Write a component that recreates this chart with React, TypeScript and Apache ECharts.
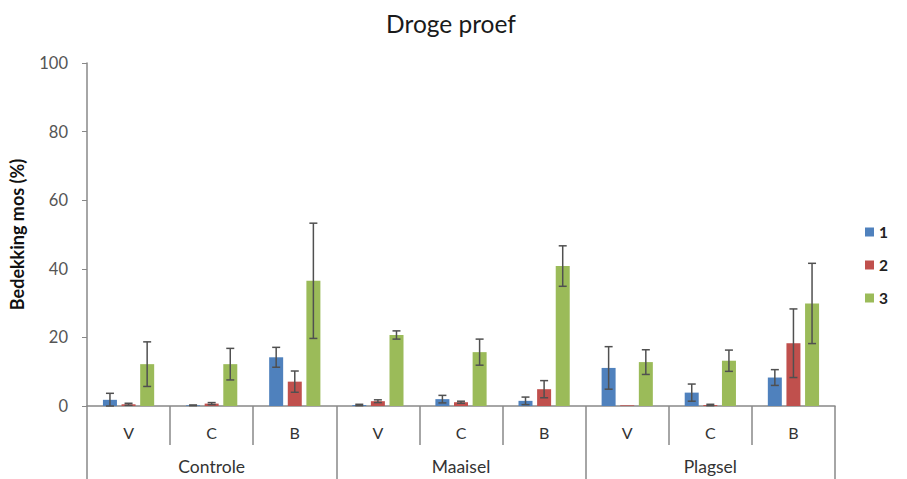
import React, { useEffect, useRef } from "react";
import * as echarts from "echarts";

const categories = ["V", "C", "B", "V", "C", "B", "V", "C", "B"];
const groups = ["Controle", "Maaisel", "Plagsel"];
const yTicks = [0, 20, 40, 60, 80, 100];
const seriesNames = ["1", "2", "3"];
const values1 = [1.8, 0.2, 14.2, 0.3, 2.0, 1.5, 11.1, 3.9, 8.3];
const errors1 = [1.9, 0.1, 2.9, 0.2, 1.1, 1.1, 6.2, 2.5, 2.3];
const values2 = [0.5, 0.7, 7.1, 1.4, 1.1, 4.9, 0.2, 0.3, 18.3];
const errors2 = [0.3, 0.3, 3.1, 0.4, 0.3, 2.5, 0, 0.2, 10.0];
const values3 = [12.2, 12.2, 36.5, 20.7, 15.7, 40.8, 12.8, 13.2, 29.9];
const errors3 = [6.5, 4.6, 16.8, 1.2, 3.8, 5.9, 3.6, 3.1, 11.7];

const colors = ["#4F81BD", "#C0504D", "#9BBB59"];
const FONT = "Lato";

export default function App() {
  const ref = useRef<HTMLDivElement>(null);
  useEffect(() => {
    document.body.style.margin = "0";
    const chart = echarts.init(ref.current!, null, { renderer: "svg" });
    const vals = [values1, values2, values3];
    const errs = [errors1, errors2, errors3];
    const barWidth = 14;
    const gapPx = 4.6;
    const offsets = [-(barWidth + gapPx), 0, barWidth + gapPx];

    const barSeries = vals.map((v, k) => ({
      name: seriesNames[k],
      type: "bar",
      barWidth,
      barGap: "33%",
      data: v,
      itemStyle: { color: colors[k] },
      xAxisIndex: 0,
    }));

    const errSeries = vals.map((v, k) => ({
      name: "err" + seriesNames[k],
      type: "custom",
      xAxisIndex: 0,
      z: 5,
      data: v.map((val, i) => [i, val, errs[k][i]]),
      renderItem: (params: any, api: any) => {
        const idx = api.value(0);
        const val = api.value(1);
        const e = api.value(2);
        if (!e) return null;
        const top = api.coord([idx, val + e]);
        const bot = api.coord([idx, Math.max(0, val - e)]);
        const cx = top[0] + offsets[k];
        const style = { stroke: "#505050", lineWidth: 1.5 };
        const cap = 4;
        return {
          type: "group",
          children: [
            { type: "line", shape: { x1: cx, y1: top[1], x2: cx, y2: bot[1] }, style },
            { type: "line", shape: { x1: cx - cap, y1: top[1], x2: cx + cap, y2: top[1] }, style },
            { type: "line", shape: { x1: cx - cap, y1: bot[1], x2: cx + cap, y2: bot[1] }, style },
          ],
        };
      },
    }));

    chart.setOption({
      animation: false,
      title: {
        text: "Droge proef",
        left: 446,
        textAlign: "center",
        top: 6,
        textStyle: { fontFamily: FONT, fontSize: 24.5, fontWeight: "normal", color: "#1a1a1a" },
      },
      legend: {
        data: seriesNames,
        orient: "vertical",
        left: 860,
        top: 219,
        itemWidth: 9,
        itemHeight: 9,
        itemGap: 17,
        icon: "rect",
        textStyle: { fontFamily: FONT, fontSize: 15.5, fontWeight: "bold", color: "#222" },
      },
      grid: { left: 85, right: 72, top: 63, bottom: 73, containLabel: false },
      xAxis: [
        {
          type: "category",
          data: categories,
          position: "bottom",
          axisLine: { show: true, lineStyle: { color: "#888", width: 1.5 } },
          axisTick: { show: true, interval: 0, length: 39, lineStyle: { color: "#888", width: 1.5 } },
          axisLabel: { interval: 0, margin: 18, fontFamily: FONT, fontSize: 16, color: "#333" },
        },
        {
          type: "category",
          data: groups,
          position: "bottom",
          offset: 39,
          axisLine: { show: false },
          axisTick: { show: true, interval: 0, length: 40, lineStyle: { color: "#888", width: 1.5 } },
          axisLabel: { interval: 0, margin: 12, fontFamily: FONT, fontSize: 17.5, color: "#333" },
        },
      ],
      yAxis: {
        type: "value",
        min: yTicks[0],
        max: yTicks[yTicks.length - 1],
        interval: 20,
        name: "Bedekking mos (%)",
        nameLocation: "middle",
        nameGap: 61,
        nameTextStyle: { fontFamily: FONT, fontSize: 18, fontWeight: "bold", color: "#111" },
        axisLine: { show: true, lineStyle: { color: "#888", width: 1.5 } },
        axisTick: { show: true, length: 5, lineStyle: { color: "#888" } },
        splitLine: { show: false },
        axisLabel: { fontFamily: FONT, fontSize: 16.5, color: "#555", margin: 19 },
      },
      series: [...barSeries, ...errSeries],
    });
    return () => chart.dispose();
  }, []);
  return <div ref={ref} style={{ width: 907, height: 479 }} />;
}
